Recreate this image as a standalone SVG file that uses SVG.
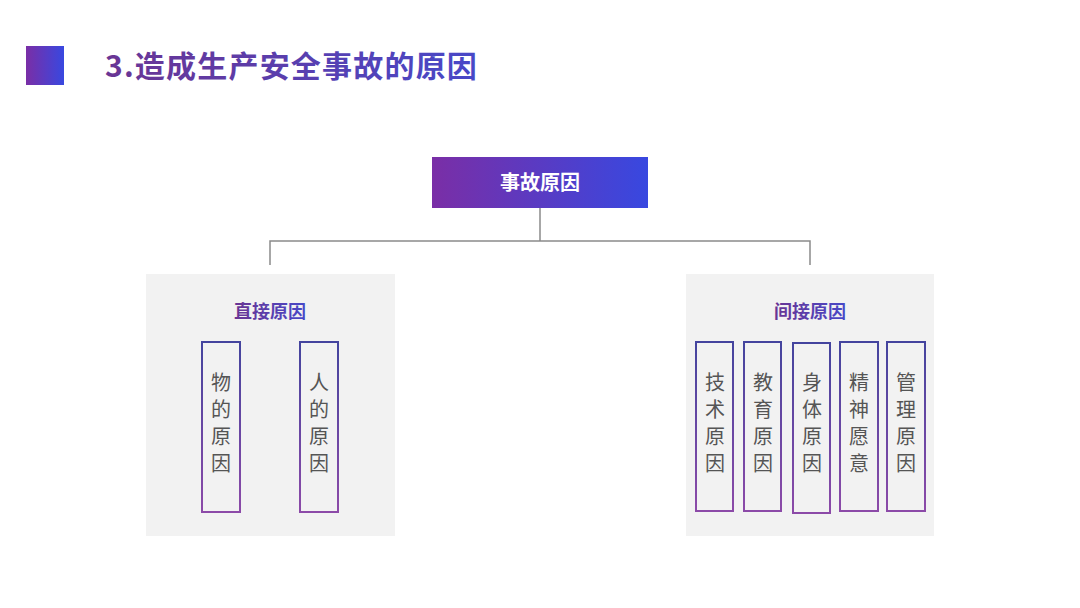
<svg xmlns="http://www.w3.org/2000/svg" width="1080" height="608" viewBox="0 0 1080 608">
<defs>
<linearGradient id="hg" x1="0" y1="0" x2="1" y2="0"><stop offset="0" stop-color="#7a2ea6"/><stop offset="1" stop-color="#3848e0"/></linearGradient>
<linearGradient id="tg" x1="0" y1="0" x2="1" y2="0"><stop offset="0" stop-color="#6a3594"/><stop offset="1" stop-color="#4848c8"/></linearGradient>
<linearGradient id="vg" x1="0" y1="0" x2="0" y2="1"><stop offset="0" stop-color="#44449e"/><stop offset="1" stop-color="#8c4aa8"/></linearGradient>
<style>
.panel{fill:#f2f2f2}
.box{fill:none;stroke:url(#vg);stroke-width:2}
.vt{font-family:"Noto Sans CJK SC",sans-serif;font-size:20px;fill:#555;text-anchor:middle}
.st{font-family:"Noto Sans CJK SC",sans-serif;font-size:18px;font-weight:bold;fill:url(#tg);text-anchor:middle}
.conn{fill:none;stroke:#8a8a8a;stroke-width:1.5}
</style>
</defs>
<rect width="1080" height="608" fill="#fff"/>
<g id="header">
<rect x="26" y="46" width="38" height="39" fill="url(#hg)"/>
<text x="105" y="77" font-family="'Noto Sans CJK SC',sans-serif" font-size="30" font-weight="bold" letter-spacing="1.2" fill="url(#tg)">3.造成生产安全事故的原因</text>
</g>
<g id="connectors">
<path class="conn" d="M540 208V241M270 265V241H810V265"/>
</g>
<g id="root">
<rect x="432" y="157" width="216" height="51" fill="url(#hg)"/>
<text x="540" y="190" font-family="'Noto Sans CJK SC',sans-serif" font-size="20" font-weight="bold" fill="#fff" text-anchor="middle">事故原因</text>
</g>
<g id="direct">
<rect class="panel" x="146" y="274" width="249" height="262"/>
<text class="st" x="270" y="318">直接原因</text>
<g id="d1"><rect class="box" x="202" y="342" width="38" height="170"/>
<text class="vt" x="221" y="390">物</text><text class="vt" x="221" y="417">的</text><text class="vt" x="221" y="444">原</text><text class="vt" x="221" y="471">因</text></g>
<g id="d2"><rect class="box" x="300" y="342" width="38" height="170"/>
<text class="vt" x="319" y="390">人</text><text class="vt" x="319" y="417">的</text><text class="vt" x="319" y="444">原</text><text class="vt" x="319" y="471">因</text></g>
</g>
<g id="indirect">
<rect class="panel" x="686" y="274" width="248" height="262"/>
<text class="st" x="810" y="318">间接原因</text>
<g id="i1"><rect class="box" x="696" y="342" width="37" height="169"/>
<text class="vt" x="715" y="390">技</text><text class="vt" x="715" y="417">术</text><text class="vt" x="715" y="444">原</text><text class="vt" x="715" y="471">因</text></g>
<g id="i2"><rect class="box" x="744" y="342" width="37" height="169"/>
<text class="vt" x="763" y="390">教</text><text class="vt" x="763" y="417">育</text><text class="vt" x="763" y="444">原</text><text class="vt" x="763" y="471">因</text></g>
<g id="i3"><rect class="box" x="793" y="343" width="37" height="170"/>
<text class="vt" x="812" y="390">身</text><text class="vt" x="812" y="417">体</text><text class="vt" x="812" y="444">原</text><text class="vt" x="812" y="471">因</text></g>
<g id="i4"><rect class="box" x="840" y="342" width="38" height="169"/>
<text class="vt" x="859" y="390">精</text><text class="vt" x="859" y="417">神</text><text class="vt" x="859" y="444">愿</text><text class="vt" x="859" y="471">意</text></g>
<g id="i5"><rect class="box" x="887" y="342" width="38" height="169"/>
<text class="vt" x="906" y="390">管</text><text class="vt" x="906" y="417">理</text><text class="vt" x="906" y="444">原</text><text class="vt" x="906" y="471">因</text></g>
</g>
</svg>
